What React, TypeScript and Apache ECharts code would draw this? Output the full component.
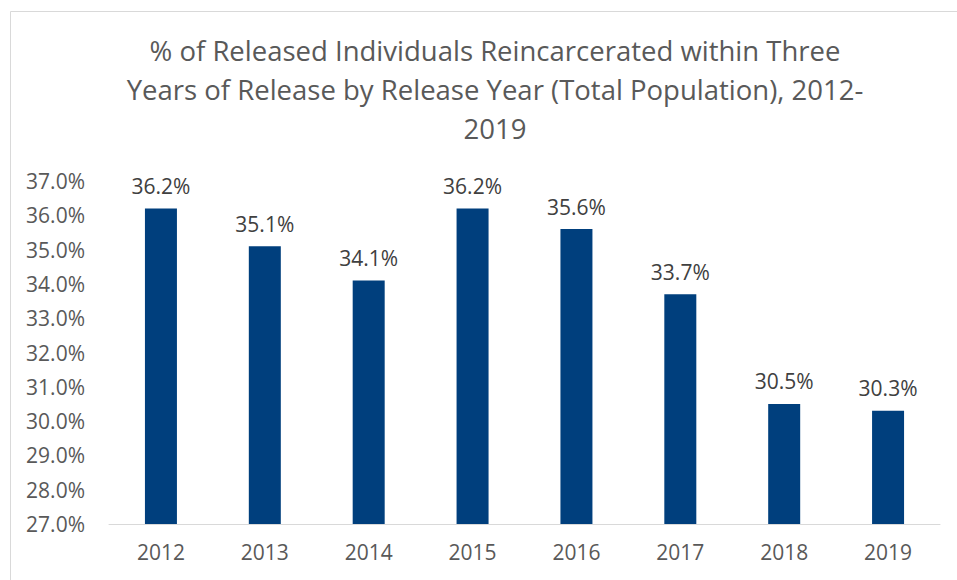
import React, { useEffect, useRef } from "react";
import * as echarts from "echarts";

const categories = ["2012", "2013", "2014", "2015", "2016", "2017", "2018", "2019"];
const values = [36.2, 35.1, 34.1, 36.2, 35.6, 33.7, 30.5, 30.3];
const titleText =
  "% of Released Individuals Reincarcerated within Three\nYears of Release by Release Year (Total Population), 2012-\n2019";

export default function App() {
  const ref = useRef<HTMLDivElement>(null);
  useEffect(() => {
    if (!ref.current) return;
    const chart = echarts.init(ref.current, null, { renderer: "svg" });
    const font = "'Open Sans', sans-serif";
    chart.setOption({
      animation: false,
      backgroundColor: "#ffffff",
      textStyle: { fontFamily: font },
      title: {
        text: titleText,
        left: 490,
        top: 26,
        textAlign: "center",
        textStyle: {
          fontFamily: font,
          fontSize: 27.5,
          fontWeight: "normal",
          color: "#595959",
          lineHeight: 39,
        },
      },
      graphic: [
        {
          type: "rect",
          shape: { x: 10.5, y: 11.5, width: 1000, height: 700 },
          style: { fill: "none", stroke: "#d9d9d9", lineWidth: 1 },
          silent: true,
        },
      ],
      grid: { left: 109, right: 17, top: 181, bottom: 56 },
      xAxis: {
        type: "category",
        data: categories,
        axisLine: { show: true, lineStyle: { color: "#d9d9d9", width: 1 } },
        axisTick: { show: false },
        axisLabel: { color: "#595959", fontSize: 21, margin: 17, fontFamily: font },
      },
      yAxis: {
        type: "value",
        min: 27,
        max: 37,
        interval: 1,
        splitLine: { show: false },
        axisLine: { show: false },
        axisTick: { show: false },
        axisLabel: {
          color: "#595959",
          fontSize: 21,
          margin: 24,
          fontFamily: font,
          formatter: (v: number) => v.toFixed(1) + "%",
        },
      },
      series: [
        {
          type: "bar",
          data: values,
          barWidth: 32,
          itemStyle: { color: "#003f7d" },
          label: {
            show: true,
            position: "top",
            distance: 12,
            color: "#404040",
            fontSize: 21,
            fontFamily: font,
            formatter: (p: any) => p.value.toFixed(1) + "%",
          },
        },
      ],
    });
    return () => chart.dispose();
  }, []);
  return (
    <div
      ref={ref}
      style={{ position: "fixed", left: 0, top: 0, width: 957, height: 580 }}
    />
  );
}
